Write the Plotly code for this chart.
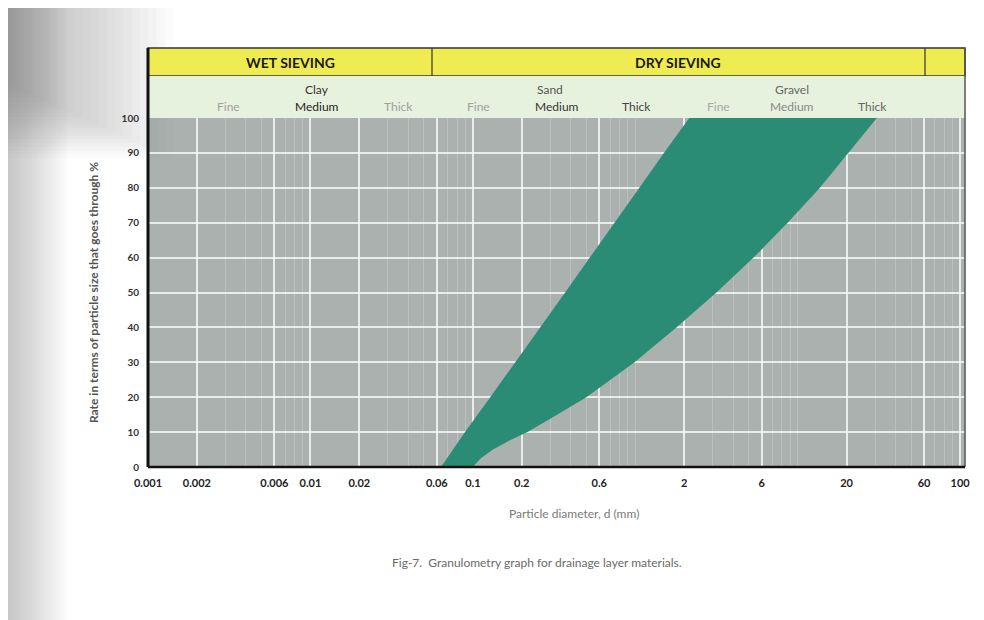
import plotly.graph_objects as go

# ---------------- data ----------------
fine_pct = [0, 10, 20, 30, 40, 50, 60, 70, 80, 90, 100]
fine_limit_mm = [0.0637, 0.0895, 0.128, 0.183, 0.26, 0.37, 0.525, 0.75, 1.06, 1.5, 2.15]
coarse_pct = [0, 2.5, 5, 7.5, 10, 15, 20, 30, 40, 50, 60, 70, 80, 90, 100]
coarse_limit_mm = [0.100, 0.112, 0.133, 0.167, 0.217, 0.33, 0.50, 0.99, 1.79, 3.16, 5.35, 8.67, 13.7, 20.6, 30.7]

x_tickvals = [0.001, 0.002, 0.006, 0.01, 0.02, 0.06, 0.1, 0.2, 0.6, 2, 6, 20, 60, 100]
x_ticktext = ["0.001", "0.002", "0.006", "0.01", "0.02", "0.06", "0.1", "0.2", "0.6", "2", "6", "20", "60", "100"]
y_tickvals = [0, 10, 20, 30, 40, 50, 60, 70, 80, 90, 100]

sieving_groups = ["WET SIEVING", "DRY SIEVING"]
soil_groups = ["Clay", "Sand", "Gravel"]
soil_classes = ["Fine", "Medium", "Thick"]

# ---------------- layout geometry (screen pixels) ----------------
OFF = 8                    # default page margin of the html body
SW, SH = 984, 620          # screen size
W, H = SW - OFF, SH - OFF  # figure size
Lr, Rr = 148, 965          # plot left / right, screen px
Tr, Br = 118, 467          # plot top / bottom, screen px


def fx(px):
    return (px - Lr) / (Rr - Lr)


def fy(py):
    return (Br - py) / (Br - Tr)


minor_vals = []
for e in [0.001, 0.01, 0.1, 1, 10]:
    for m in range(1, 10):
        v = round(m * e, 6)
        if v not in x_tickvals:
            minor_vals.append(v)

fig = go.Figure()

poly_x = fine_limit_mm + coarse_limit_mm[::-1]
poly_y = fine_pct + coarse_pct[::-1]
fig.add_trace(go.Scatter(
    x=poly_x, y=poly_y, fill="toself", mode="lines",
    line=dict(color="#2a8c75", width=0), fillcolor="#2a8c75",
    hoverinfo="skip", showlegend=False,
))

shapes = []
# scan shadow on the left edge (overlapping translucent rects -> soft gradient)
n = 20
for i in range(n):
    w = 60 * (1 - i / n)
    shapes.append(dict(type="rect", xref="paper", yref="paper",
                       x0=fx(OFF), x1=fx(OFF + w), y0=fy(SH), y1=fy(OFF),
                       fillcolor="rgba(120,120,120,0.025)", line=dict(width=0), layer="below"))
for i in range(n):
    w = 165 * (1 - i / n)
    h = 150 * (1 - 0.5 * i / n)
    shapes.append(dict(type="rect", xref="paper", yref="paper",
                       x0=fx(OFF), x1=fx(OFF + w), y0=fy(OFF + h), y1=fy(OFF),
                       fillcolor="rgba(120,120,120,0.028)", line=dict(width=0), layer="below"))

# header bands
yellow_top, yellow_bot = 48, 76
shapes.append(dict(type="rect", xref="paper", yref="paper", x0=fx(Lr), x1=fx(Rr),
                   y0=fy(yellow_bot), y1=fy(yellow_top), fillcolor="#efec52",
                   line=dict(color="#333", width=1.5)))
shapes.append(dict(type="rect", xref="paper", yref="paper", x0=fx(Lr), x1=fx(Rr),
                   y0=fy(Tr), y1=fy(yellow_bot), fillcolor="#e7f2de",
                   line=dict(width=0)))
for px in [432, 925]:
    shapes.append(dict(type="line", xref="paper", yref="paper", x0=fx(px), x1=fx(px),
                       y0=fy(yellow_bot), y1=fy(yellow_top), line=dict(color="#333", width=1.2)))
# frame lines
shapes.append(dict(type="line", xref="paper", yref="paper", x0=fx(Lr), x1=fx(Lr),
                   y0=fy(Br), y1=fy(yellow_top), line=dict(color="#111", width=3)))
shapes.append(dict(type="line", xref="paper", yref="paper", x0=fx(Rr), x1=fx(Rr),
                   y0=fy(Br), y1=fy(yellow_top), line=dict(color="#555", width=1.5)))
shapes.append(dict(type="line", xref="paper", yref="paper", x0=fx(Lr), x1=fx(Rr),
                   y0=fy(Br), y1=fy(Br), line=dict(color="#111", width=2.5)))

annotations = []
sieve_px = [290, 678]
for name, px in zip(sieving_groups, sieve_px):
    annotations.append(dict(text=name, x=fx(px), y=fy(62), xref="paper", yref="paper",
                            showarrow=False, xanchor="center", yanchor="middle",
                            font=dict(family="Lato", size=14, color="#1a1a1a", weight="bold")))

group_px = [317, 550, 792]
group_colors = ["#333333", "#555555", "#666666"]
for name, px, c in zip(soil_groups, group_px, group_colors):
    annotations.append(dict(text=name, x=fx(px), y=fy(90), xref="paper", yref="paper",
                            showarrow=False, xanchor="center", yanchor="middle",
                            font=dict(family="Lato", size=12, color=c)))

class_px = [[228, 317, 398], [478, 557, 636], [718, 792, 872]]
class_colors = [["#a0a0a0", "#222222", "#a0a0a0"],
                ["#a0a0a0", "#333333", "#444444"],
                ["#a8a8a8", "#888888", "#666666"]]
for gpx, gcol in zip(class_px, class_colors):
    for name, px, c in zip(soil_classes, gpx, gcol):
        annotations.append(dict(text=name, x=fx(px), y=fy(106), xref="paper", yref="paper",
                                showarrow=False, xanchor="center", yanchor="middle",
                                font=dict(family="Lato", size=12, color=c)))

annotations.append(dict(text="Particle diameter, d (mm)", x=fx(574), y=fy(513), xref="paper", yref="paper",
                        showarrow=False, xanchor="center", yanchor="middle",
                        font=dict(family="Lato", size=12, color="#7a7a7a")))
annotations.append(dict(text="Fig-7.  Granulometry graph for drainage layer materials.",
                        x=fx(537), y=fy(562), xref="paper", yref="paper",
                        showarrow=False, xanchor="center", yanchor="middle",
                        font=dict(family="Lato", size=12, color="#6a6a6a")))

fig.update_layout(
    width=W, height=H,
    margin=dict(l=Lr - OFF, r=SW - Rr, t=Tr - OFF, b=SH - Br, pad=0),
    paper_bgcolor="white",
    plot_bgcolor="#aab1af",
    showlegend=False,
    shapes=shapes,
    annotations=annotations,
    font=dict(family="Lato"),
)

fig.update_xaxes(
    type="log", range=[-3, 2.03],
    tickmode="array", tickvals=x_tickvals, ticktext=x_ticktext,
    tickfont=dict(family="Lato", size=11, color="#222", weight="bold"),
    ticks="", ticklabelstandoff=8,
    showgrid=True, gridcolor="rgba(255,255,255,0.75)", gridwidth=1.5,
    minor=dict(tickmode="array", tickvals=minor_vals, showgrid=True,
               gridcolor="rgba(255,255,255,0.2)", gridwidth=1, ticks=""),
    showline=False, zeroline=False,
)
fig.update_yaxes(
    range=[0, 100],
    tickmode="array", tickvals=y_tickvals,
    tickfont=dict(family="Lato", size=10, color="#333", weight="bold"),
    ticks="", ticklabelstandoff=8,
    showgrid=True, gridcolor="rgba(255,255,255,0.75)", gridwidth=1.5,
    showline=False, zeroline=False,
    title=dict(text="Rate in terms of particle size that goes through %",
               font=dict(family="Lato", size=12, color="#555", weight="bold"), standoff=20),
)

fig.write_html("out.html")
